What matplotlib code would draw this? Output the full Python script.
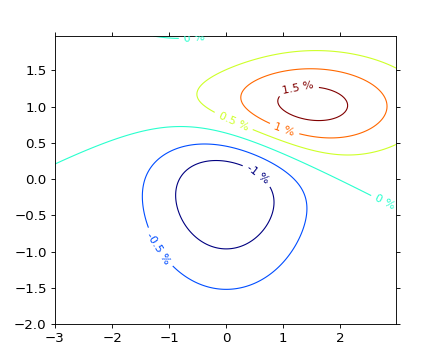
import numpy as np
import matplotlib
matplotlib.use("Agg")
import matplotlib.pyplot as plt

# Grid definition
x_range = [-3.0, 3.0]
y_range = [-2.0, 2.0]
step = 0.025

# Two bivariate normal bumps: (sigma_x, sigma_y, mu_x, mu_y)
bump_neg = [1.0, 1.0, 0.0, 0.0]
bump_pos = [1.5, 0.5, 1.0, 1.0]
scale = 10.0

levels = [-1.0, -0.5, 0.0, 0.5, 1.0, 1.5]
level_labels = ["-1 %", "-0.5 %", "0 %", "0.5 %", "1 %", "1.5 %"]

# approximate label anchor positions (data coords)
label_x = [1.26, 1.02, 0.13, 0.55, -1.22, 2.78, -0.56]
label_y = [1.26, 0.69, 0.80, 0.06, -0.97, -0.33, 1.96]

x_ticks = [-3, -2, -1, 0, 1, 2]
y_ticks = [-2.0, -1.5, -1.0, -0.5, 0.0, 0.5, 1.0, 1.5]


def bivariate_normal(X, Y, sx, sy, mx, my):
    z = ((X - mx) / sx) ** 2 + ((Y - my) / sy) ** 2
    return np.exp(-z / 2) / (2 * np.pi * sx * sy)


x = np.arange(x_range[0], x_range[1], step)
y = np.arange(y_range[0], y_range[1], step)
X, Y = np.meshgrid(x, y)
Z = scale * (bivariate_normal(X, Y, *bump_pos) - bivariate_normal(X, Y, *bump_neg))

plt.rcParams['font.family'] = ['DejaVu Sans']
fig = plt.figure(figsize=(5.5, 4.5), dpi=80)
ax = fig.add_axes([0.125, 0.1, 0.775, 0.8])

CS = ax.contour(X, Y, Z, levels=levels, cmap='jet', linewidths=1.0)
fmt = dict(zip(CS.levels, level_labels))
ax.clabel(CS, CS.levels, inline=True, fmt=fmt, fontsize=10,
          manual=list(zip(label_x, label_y)))

ax.set_xlim(x[0], x[-1])
ax.set_ylim(y[0], y[-1])
ax.set_xticks(x_ticks)
ax.set_yticks(y_ticks)
ax.tick_params(direction='out', top=True, right=True, labelsize=12, length=4)
ax.xaxis.set_major_formatter(matplotlib.ticker.FuncFormatter(lambda v, p: f"{int(v)}".replace('-', '\u2212')))
ax.yaxis.set_major_formatter(matplotlib.ticker.FuncFormatter(lambda v, p: f"{v:.1f}".replace('-', '\u2212')))

fig.savefig("out.png", dpi=80)
